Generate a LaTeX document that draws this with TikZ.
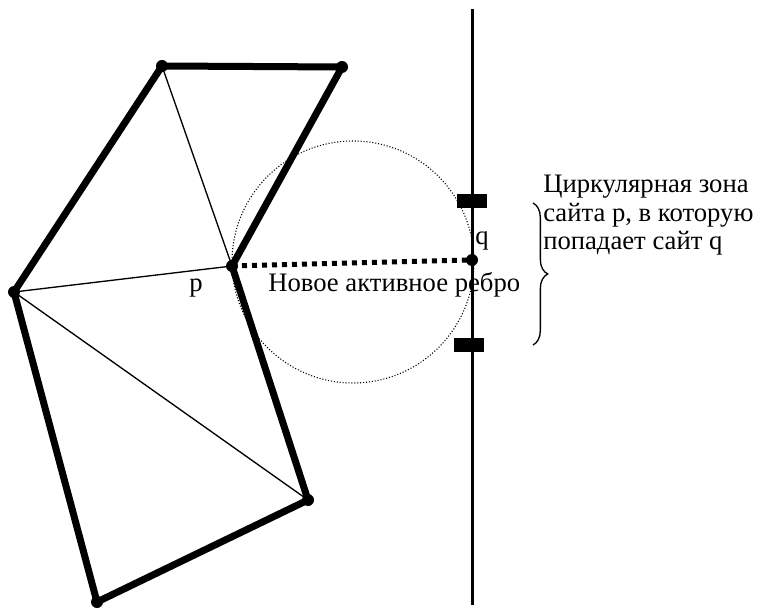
\documentclass[tikz,border=0pt]{standalone}
\usepackage{fontspec}
\setmainfont{Liberation Serif}
\newfontfamily\labelfont{Liberation Serif}
\usetikzlibrary{decorations.pathreplacing}

\begin{document}
\begin{tikzpicture}[x=0.75pt, y=-0.75pt,
        edge/.style={line width=5.25pt},
        diag/.style={line width=1pt},
        vtx/.style={circle, fill, inner sep=0pt, minimum size=9pt},
        zonebar/.style={rectangle, fill, inner sep=0pt, minimum width=22.5pt, minimum height=10pt},
        active/.style={line width=3.75pt, dash pattern=on 3.75pt off 3.75pt},
        zone/.style={line width=0.8pt, dash pattern=on 0.8pt off 1.4pt},
        lbl/.style={font=\labelfont\fontsize{20}{21.4}\selectfont, inner sep=0pt}
    ]
    \useasboundingbox (0,0) rectangle (760,609);

    % sites of the triangulation
    \coordinate (a) at (162,66);
    \coordinate (b) at (342,67);
    \coordinate (p) at (232,266);
    \coordinate (l) at (14,292);
    \coordinate (r) at (308,500);
    \coordinate (d) at (97,602);
    \coordinate (q) at (472,260);
    \coordinate (top) at (472,9);
    \coordinate (bot) at (472,605);

    % circular zone of site p
    \draw[zone] (353,262) circle[radius=121];

    % triangulation edges
    \draw[diag] (a) -- (p);
    \draw[diag] (l) -- (p);
    \draw[diag] (l) -- (r);
    \draw[edge, line join=round] (p) -- (b) -- (a) -- (l) -- (d) -- (r) -- (p);

    % sweep line
    \draw[line width=2.25pt] (top) -- (bot);
    \node[zonebar] (z1) at (472,201) {};
    \node[zonebar] (z2) at (469,345) {};

    % new active edge
    \draw[active] (p) -- (q);

    \foreach \v in {a,b,p,l,r,d,q}
        \node[vtx] at (\v) {};

    \node[lbl, anchor=base] (plab) at (196,292) {p};
    \node[lbl, anchor=base west] (qlab) at (475,245) {q};
    \node[lbl, anchor=base west] (newedge) at (268,292) {Новое активное ребро};

    \draw[line width=1pt, decorate, decoration={brace, amplitude=11pt}] (533,203) -- (533,345);
    \node[lbl, anchor=base west, align=left] (zonetext) at (543,250)
        {Циркулярная зона\\сайта p, в которую\\попадает сайт q};
\end{tikzpicture}
\end{document}
